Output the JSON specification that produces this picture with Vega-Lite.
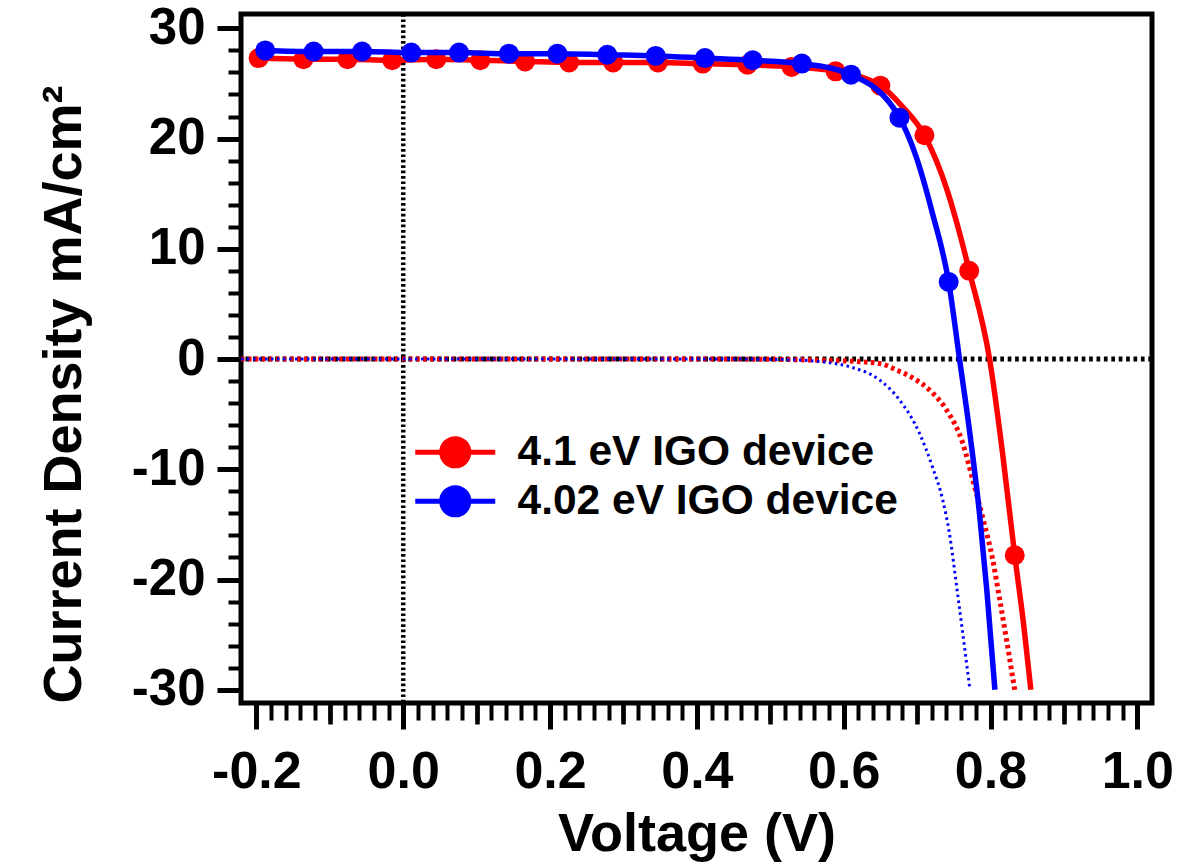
{
  "$schema": "https://vega.github.io/schema/vega-lite/v6.json",
  "width": 911,
  "height": 689,
  "autosize": {"type": "none"},
  "padding": {"left": 241, "top": 14, "right": 27, "bottom": 165},
  "background": "white",
  "datasets": {
    "markers": [
      {"device": "4.1 eV IGO device", "V": -0.197, "J": 27.3},
      {"device": "4.1 eV IGO device", "V": -0.136, "J": 27.2},
      {"device": "4.1 eV IGO device", "V": -0.076, "J": 27.2},
      {"device": "4.1 eV IGO device", "V": -0.015, "J": 27.1},
      {"device": "4.1 eV IGO device", "V": 0.045, "J": 27.2},
      {"device": "4.1 eV IGO device", "V": 0.105, "J": 27.1},
      {"device": "4.1 eV IGO device", "V": 0.166, "J": 27.0},
      {"device": "4.1 eV IGO device", "V": 0.226, "J": 26.9},
      {"device": "4.1 eV IGO device", "V": 0.286, "J": 26.9},
      {"device": "4.1 eV IGO device", "V": 0.347, "J": 26.9},
      {"device": "4.1 eV IGO device", "V": 0.408, "J": 26.8},
      {"device": "4.1 eV IGO device", "V": 0.469, "J": 26.7},
      {"device": "4.1 eV IGO device", "V": 0.529, "J": 26.5},
      {"device": "4.1 eV IGO device", "V": 0.589, "J": 26.1},
      {"device": "4.1 eV IGO device", "V": 0.650, "J": 24.8},
      {"device": "4.1 eV IGO device", "V": 0.710, "J": 20.3},
      {"device": "4.1 eV IGO device", "V": 0.771, "J": 8.0},
      {"device": "4.1 eV IGO device", "V": 0.833, "J": -17.8},
      {"device": "4.02 eV IGO device", "V": -0.188, "J": 28.0},
      {"device": "4.02 eV IGO device", "V": -0.122, "J": 27.9},
      {"device": "4.02 eV IGO device", "V": -0.056, "J": 27.9},
      {"device": "4.02 eV IGO device", "V": 0.011, "J": 27.8},
      {"device": "4.02 eV IGO device", "V": 0.076, "J": 27.8},
      {"device": "4.02 eV IGO device", "V": 0.144, "J": 27.7},
      {"device": "4.02 eV IGO device", "V": 0.210, "J": 27.7},
      {"device": "4.02 eV IGO device", "V": 0.278, "J": 27.6},
      {"device": "4.02 eV IGO device", "V": 0.344, "J": 27.5},
      {"device": "4.02 eV IGO device", "V": 0.411, "J": 27.3},
      {"device": "4.02 eV IGO device", "V": 0.476, "J": 27.1},
      {"device": "4.02 eV IGO device", "V": 0.543, "J": 26.8},
      {"device": "4.02 eV IGO device", "V": 0.610, "J": 25.8},
      {"device": "4.02 eV IGO device", "V": 0.676, "J": 21.9},
      {"device": "4.02 eV IGO device", "V": 0.743, "J": 7.0}
    ],
    "curve": [
      {"device": "4.1 eV IGO device", "V": -0.197, "J": 27.3},
      {"device": "4.1 eV IGO device", "V": -0.136, "J": 27.2},
      {"device": "4.1 eV IGO device", "V": -0.076, "J": 27.2},
      {"device": "4.1 eV IGO device", "V": -0.015, "J": 27.1},
      {"device": "4.1 eV IGO device", "V": 0.045, "J": 27.2},
      {"device": "4.1 eV IGO device", "V": 0.105, "J": 27.1},
      {"device": "4.1 eV IGO device", "V": 0.166, "J": 27.0},
      {"device": "4.1 eV IGO device", "V": 0.226, "J": 26.9},
      {"device": "4.1 eV IGO device", "V": 0.286, "J": 26.9},
      {"device": "4.1 eV IGO device", "V": 0.347, "J": 26.9},
      {"device": "4.1 eV IGO device", "V": 0.408, "J": 26.8},
      {"device": "4.1 eV IGO device", "V": 0.469, "J": 26.7},
      {"device": "4.1 eV IGO device", "V": 0.529, "J": 26.5},
      {"device": "4.1 eV IGO device", "V": 0.589, "J": 26.1},
      {"device": "4.1 eV IGO device", "V": 0.650, "J": 24.8},
      {"device": "4.1 eV IGO device", "V": 0.680, "J": 22.9},
      {"device": "4.1 eV IGO device", "V": 0.710, "J": 20.3},
      {"device": "4.1 eV IGO device", "V": 0.741, "J": 15.3},
      {"device": "4.1 eV IGO device", "V": 0.758, "J": 11.4},
      {"device": "4.1 eV IGO device", "V": 0.771, "J": 8.0},
      {"device": "4.1 eV IGO device", "V": 0.799, "J": -0.1},
      {"device": "4.1 eV IGO device", "V": 0.816, "J": -8.3},
      {"device": "4.1 eV IGO device", "V": 0.833, "J": -17.8},
      {"device": "4.1 eV IGO device", "V": 0.845, "J": -24.0},
      {"device": "4.1 eV IGO device", "V": 0.855, "J": -30.0},
      {"device": "4.02 eV IGO device", "V": -0.188, "J": 28.0},
      {"device": "4.02 eV IGO device", "V": -0.122, "J": 27.9},
      {"device": "4.02 eV IGO device", "V": -0.056, "J": 27.9},
      {"device": "4.02 eV IGO device", "V": 0.011, "J": 27.8},
      {"device": "4.02 eV IGO device", "V": 0.076, "J": 27.8},
      {"device": "4.02 eV IGO device", "V": 0.144, "J": 27.7},
      {"device": "4.02 eV IGO device", "V": 0.210, "J": 27.7},
      {"device": "4.02 eV IGO device", "V": 0.278, "J": 27.6},
      {"device": "4.02 eV IGO device", "V": 0.344, "J": 27.5},
      {"device": "4.02 eV IGO device", "V": 0.411, "J": 27.3},
      {"device": "4.02 eV IGO device", "V": 0.476, "J": 27.1},
      {"device": "4.02 eV IGO device", "V": 0.543, "J": 26.8},
      {"device": "4.02 eV IGO device", "V": 0.610, "J": 25.8},
      {"device": "4.02 eV IGO device", "V": 0.676, "J": 21.9},
      {"device": "4.02 eV IGO device", "V": 0.699, "J": 18.3},
      {"device": "4.02 eV IGO device", "V": 0.721, "J": 13.2},
      {"device": "4.02 eV IGO device", "V": 0.743, "J": 7.0},
      {"device": "4.02 eV IGO device", "V": 0.758, "J": -0.1},
      {"device": "4.02 eV IGO device", "V": 0.771, "J": -6.3},
      {"device": "4.02 eV IGO device", "V": 0.785, "J": -14.0},
      {"device": "4.02 eV IGO device", "V": 0.795, "J": -21.0},
      {"device": "4.02 eV IGO device", "V": 0.806, "J": -30.0}
    ],
    "dark": [
      {"device": "4.1 eV IGO device", "V": -0.221, "J": 0},
      {"device": "4.1 eV IGO device", "V": 0.40, "J": 0},
      {"device": "4.1 eV IGO device", "V": 0.50, "J": -0.02},
      {"device": "4.1 eV IGO device", "V": 0.55, "J": -0.08},
      {"device": "4.1 eV IGO device", "V": 0.595, "J": -0.15},
      {"device": "4.1 eV IGO device", "V": 0.649, "J": -0.4},
      {"device": "4.1 eV IGO device", "V": 0.672, "J": -1.0},
      {"device": "4.1 eV IGO device", "V": 0.694, "J": -1.7},
      {"device": "4.1 eV IGO device", "V": 0.720, "J": -3.0},
      {"device": "4.1 eV IGO device", "V": 0.740, "J": -4.6},
      {"device": "4.1 eV IGO device", "V": 0.762, "J": -7.6},
      {"device": "4.1 eV IGO device", "V": 0.776, "J": -11.0},
      {"device": "4.1 eV IGO device", "V": 0.789, "J": -14.3},
      {"device": "4.1 eV IGO device", "V": 0.803, "J": -18.2},
      {"device": "4.1 eV IGO device", "V": 0.812, "J": -21.6},
      {"device": "4.1 eV IGO device", "V": 0.833, "J": -30.0},
      {"device": "4.02 eV IGO device", "V": -0.221, "J": 0},
      {"device": "4.02 eV IGO device", "V": 0.45, "J": 0},
      {"device": "4.02 eV IGO device", "V": 0.52, "J": -0.05},
      {"device": "4.02 eV IGO device", "V": 0.577, "J": -0.3},
      {"device": "4.02 eV IGO device", "V": 0.608, "J": -0.7},
      {"device": "4.02 eV IGO device", "V": 0.649, "J": -1.9},
      {"device": "4.02 eV IGO device", "V": 0.676, "J": -3.7},
      {"device": "4.02 eV IGO device", "V": 0.703, "J": -6.7},
      {"device": "4.02 eV IGO device", "V": 0.721, "J": -9.8},
      {"device": "4.02 eV IGO device", "V": 0.735, "J": -12.8},
      {"device": "4.02 eV IGO device", "V": 0.744, "J": -15.8},
      {"device": "4.02 eV IGO device", "V": 0.755, "J": -21.2},
      {"device": "4.02 eV IGO device", "V": 0.772, "J": -30.0}
    ]
  },
  "resolve": {"axis": {"x": "independent", "y": "independent"}},
  "layer": [
    {
      "data": {"values": [{"V": 0}]},
      "mark": {"type": "rule", "color": "black", "strokeWidth": 4.5, "strokeDash": [2.7, 2.7]},
      "encoding": {
        "x": {"field": "V", "type": "quantitative", "scale": {"domain": [-0.221, 1.02], "nice": false, "zero": false}, "axis": null}
      }
    },
    {
      "data": {"values": [{"J": 0}]},
      "mark": {"type": "rule", "color": "black", "strokeWidth": 5, "strokeDash": [3.7, 3.7]},
      "encoding": {
        "y": {"field": "J", "type": "quantitative", "scale": {"domain": [-31.2, 31.3], "nice": false, "zero": false}, "axis": null}
      }
    },
    {
      "data": {"name": "dark"},
      "transform": [{"filter": "datum.device == '4.1 eV IGO device'"}],
      "mark": {"type": "line", "color": "#ff0000", "strokeWidth": 5, "strokeDash": [3.5, 3.5], "interpolate": "monotone"},
      "encoding": {
        "x": {"field": "V", "type": "quantitative", "scale": {"domain": [-0.221, 1.02], "nice": false, "zero": false},
          "axis": {"orient": "bottom", "values": [-0.2,-0.18,-0.16,-0.14,-0.12,-0.1,-0.08,-0.06,-0.04,-0.02,0,0.02,0.04,0.06,0.08,0.1,0.12,0.14,0.16,0.18,0.2,0.22,0.24,0.26,0.28,0.3,0.32,0.34,0.36,0.38,0.4,0.42,0.44,0.46,0.48,0.5,0.52,0.54,0.56,0.58,0.6,0.62,0.64,0.66,0.68,0.7,0.72,0.74,0.76,0.78,0.8,0.82,0.84,0.86,0.88,0.9,0.92,0.94,0.96,0.98,1.0],
            "tickSize": 17, "tickWidth": 4, "labels": false, "title": null, "domain": false}},
        "y": {"field": "J", "type": "quantitative", "scale": {"domain": [-31.2, 31.3], "nice": false, "zero": false},
          "axis": {"orient": "left", "values": [-30,-28,-26,-24,-22,-20,-18,-16,-14,-12,-10,-8,-6,-4,-2,0,2,4,6,8,10,12,14,16,18,20,22,24,26,28,30],
            "tickSize": 13, "tickWidth": 4, "labels": false, "title": null, "domain": false}}
      }
    },
    {
      "data": {"name": "dark"},
      "transform": [{"filter": "datum.device == '4.02 eV IGO device'"}],
      "mark": {"type": "line", "color": "#0000ff", "strokeWidth": 3, "strokeDash": [2.5, 3.5], "interpolate": "monotone"},
      "encoding": {
        "x": {"field": "V", "type": "quantitative", "scale": {"domain": [-0.221, 1.02], "nice": false, "zero": false},
          "axis": {"orient": "bottom", "values": [-0.1, 0.1, 0.3, 0.5, 0.7, 0.9], "tickSize": 21, "tickWidth": 4.5, "labels": false, "title": null, "domain": false}},
        "y": {"field": "J", "type": "quantitative", "scale": {"domain": [-31.2, 31.3], "nice": false, "zero": false}, "axis": null}
      }
    },
    {
      "data": {"name": "curve"},
      "transform": [{"filter": "datum.device == '4.1 eV IGO device'"}],
      "mark": {"type": "line", "strokeWidth": 5.5, "interpolate": "monotone"},
      "encoding": {
        "x": {"field": "V", "type": "quantitative", "scale": {"domain": [-0.221, 1.02], "nice": false, "zero": false},
          "axis": {"orient": "bottom", "values": [-0.2, 0, 0.2, 0.4, 0.6, 0.8, 1.0], "format": ".1f", "labelExpr": "replace(datum.label, '\u2212', '-')",
            "tickSize": 26, "tickWidth": 5, "labelFontSize": 52, "labelPadding": 17, "labelOverlap": false, "labelFlush": false,
            "title": "Voltage (V)", "titleFontSize": 54, "titleY": 147, "titleBaseline": "alphabetic", "domain": false}},
        "y": {"field": "J", "type": "quantitative", "scale": {"domain": [-31.2, 31.3], "nice": false, "zero": false},
          "axis": {"orient": "left", "values": [-30, -20, -10, 0, 10, 20, 30], "format": "d", "labelExpr": "replace(datum.label, '\u2212', '-')",
            "tickSize": 24, "tickWidth": 5, "labelFontSize": 51, "labelPadding": 12, "labelOverlap": false, "labelFlush": false,
            "title": "Current Density mA/cm²", "titleFontSize": 54, "titleAngle": 270, "titleX": -161, "titleY": 380, "titleBaseline": "alphabetic", "domain": false}},
        "color": {"field": "device", "type": "nominal", "scale": {"domain": ["4.1 eV IGO device", "4.02 eV IGO device"], "range": ["#ff0000", "#0000ff"]},
          "legend": {"title": null, "orient": "none", "legendX": 193, "legendY": 417, "padding": 0,
            "symbolType": "M-2.5,0L2.5,0M-0.85,0A0.85,0.85,0,1,1,0.85,0A0.85,0.85,0,1,1,-0.85,0Z",
            "symbolSize": 1024, "symbolStrokeWidth": 5, "labelFont": "Liberation Sans", "labelFontWeight": "bold", "labelFontSize": 42.5,
            "labelColor": "black", "labelOffset": 41, "labelLimit": 0, "rowPadding": 1,
            "encode": {"symbols": {"update": {"fill": {"scale": "color", "field": "value"}, "stroke": {"scale": "color", "field": "value"}, "strokeWidth": {"value": 5}, "opacity": {"value": 1}}}}}}
      }
    },
    {
      "data": {"name": "markers"},
      "transform": [{"filter": "datum.device == '4.1 eV IGO device'"}],
      "mark": {"type": "point", "shape": "circle", "filled": true, "opacity": 1, "size": 400},
      "encoding": {
        "x": {"field": "V", "type": "quantitative", "scale": {"domain": [-0.221, 1.02], "nice": false, "zero": false}, "axis": null},
        "y": {"field": "J", "type": "quantitative", "scale": {"domain": [-31.2, 31.3], "nice": false, "zero": false}, "axis": null},
        "color": {"field": "device", "type": "nominal", "scale": {"domain": ["4.1 eV IGO device", "4.02 eV IGO device"], "range": ["#ff0000", "#0000ff"]},
          "legend": {"title": null, "orient": "none", "legendX": 193, "legendY": 417, "padding": 0,
            "symbolType": "M-2.5,0L2.5,0M-0.85,0A0.85,0.85,0,1,1,0.85,0A0.85,0.85,0,1,1,-0.85,0Z",
            "symbolSize": 1024, "symbolStrokeWidth": 5, "labelFont": "Liberation Sans", "labelFontWeight": "bold", "labelFontSize": 42.5,
            "labelColor": "black", "labelOffset": 41, "labelLimit": 0, "rowPadding": 1,
            "encode": {"symbols": {"update": {"fill": {"scale": "color", "field": "value"}, "stroke": {"scale": "color", "field": "value"}, "strokeWidth": {"value": 5}, "opacity": {"value": 1}}}}}}
      }
    },
    {
      "data": {"name": "curve"},
      "transform": [{"filter": "datum.device == '4.02 eV IGO device'"}],
      "mark": {"type": "line", "strokeWidth": 5.5, "interpolate": "monotone"},
      "encoding": {
        "x": {"field": "V", "type": "quantitative", "scale": {"domain": [-0.221, 1.02], "nice": false, "zero": false}, "axis": null},
        "y": {"field": "J", "type": "quantitative", "scale": {"domain": [-31.2, 31.3], "nice": false, "zero": false}, "axis": null},
        "color": {"field": "device", "type": "nominal", "scale": {"domain": ["4.1 eV IGO device", "4.02 eV IGO device"], "range": ["#ff0000", "#0000ff"]},
          "legend": {"title": null, "orient": "none", "legendX": 193, "legendY": 417, "padding": 0,
            "symbolType": "M-2.5,0L2.5,0M-0.85,0A0.85,0.85,0,1,1,0.85,0A0.85,0.85,0,1,1,-0.85,0Z",
            "symbolSize": 1024, "symbolStrokeWidth": 5, "labelFont": "Liberation Sans", "labelFontWeight": "bold", "labelFontSize": 42.5,
            "labelColor": "black", "labelOffset": 41, "labelLimit": 0, "rowPadding": 1,
            "encode": {"symbols": {"update": {"fill": {"scale": "color", "field": "value"}, "stroke": {"scale": "color", "field": "value"}, "strokeWidth": {"value": 5}, "opacity": {"value": 1}}}}}}
      }
    },
    {
      "data": {"name": "markers"},
      "transform": [{"filter": "datum.device == '4.02 eV IGO device'"}],
      "mark": {"type": "point", "shape": "circle", "filled": true, "opacity": 1, "size": 400},
      "encoding": {
        "x": {"field": "V", "type": "quantitative", "scale": {"domain": [-0.221, 1.02], "nice": false, "zero": false}, "axis": null},
        "y": {"field": "J", "type": "quantitative", "scale": {"domain": [-31.2, 31.3], "nice": false, "zero": false}, "axis": null},
        "color": {"field": "device", "type": "nominal", "scale": {"domain": ["4.1 eV IGO device", "4.02 eV IGO device"], "range": ["#ff0000", "#0000ff"]},
          "legend": {"title": null, "orient": "none", "legendX": 193, "legendY": 417, "padding": 0,
            "symbolType": "M-2.5,0L2.5,0M-0.85,0A0.85,0.85,0,1,1,0.85,0A0.85,0.85,0,1,1,-0.85,0Z",
            "symbolSize": 1024, "symbolStrokeWidth": 5, "labelFont": "Liberation Sans", "labelFontWeight": "bold", "labelFontSize": 42.5,
            "labelColor": "black", "labelOffset": 41, "labelLimit": 0, "rowPadding": 1,
            "encode": {"symbols": {"update": {"fill": {"scale": "color", "field": "value"}, "stroke": {"scale": "color", "field": "value"}, "strokeWidth": {"value": 5}, "opacity": {"value": 1}}}}}}
      }
    }
  ],
  "config": {
    "view": {"stroke": "black", "strokeWidth": 5},
    "axis": {"grid": false, "domain": false, "tickColor": "black", "labelColor": "black", "labelFont": "Liberation Sans", "labelFontWeight": "bold", "titleFont": "Liberation Sans", "titleFontWeight": "bold", "titleColor": "black"}
  }
}
